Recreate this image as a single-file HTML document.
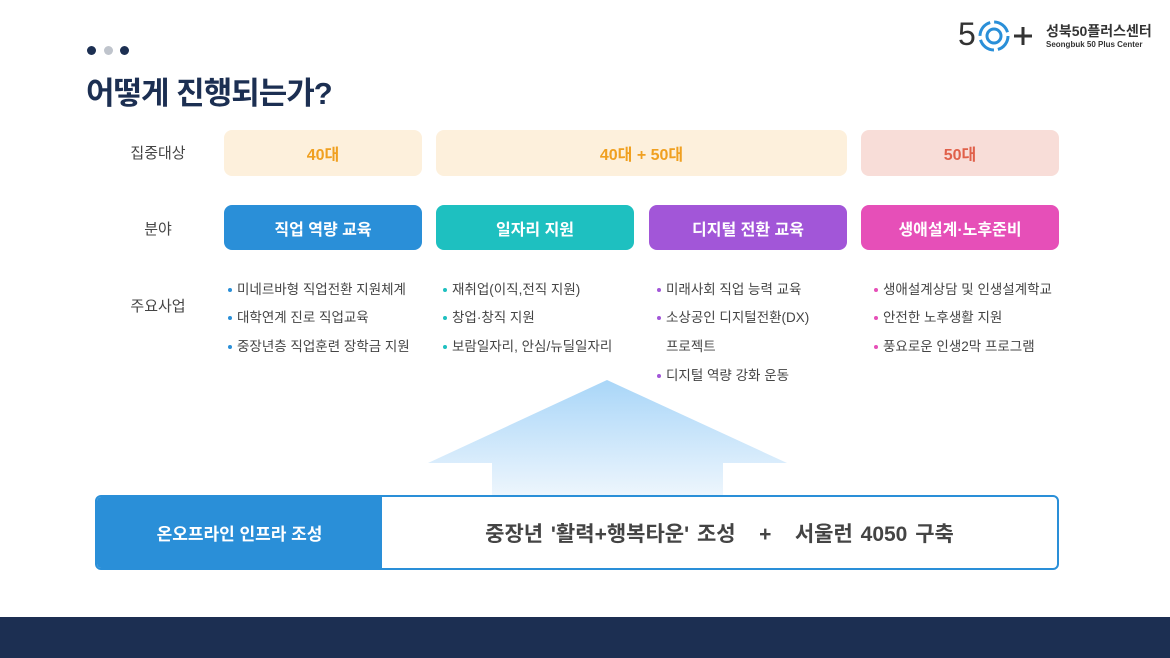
<!DOCTYPE html>
<html><head><meta charset="utf-8"><style>
*{margin:0;padding:0;box-sizing:border-box}
body{width:1170px;height:658px;background:#fff;position:relative;overflow:hidden;font-family:"Liberation Sans","Noto Sans CJK KR",sans-serif;color:#333}
.a{position:absolute}
.box{position:absolute;border-radius:8px;display:flex;align-items:center;justify-content:center;font-size:16px;font-weight:bold}
.lab{position:absolute;left:118px;width:80px;text-align:center;font-size:15px;color:#444}
.li{position:absolute;font-size:13.5px;color:#444;white-space:nowrap}
.li b{display:inline-block;width:4px;height:4px;border-radius:2px;margin-right:5px;vertical-align:middle}
</style></head><body>
<div class="a" style="left:87px;top:46px;width:9px;height:9px;border-radius:50%;background:#1c2f52"></div>
<div class="a" style="left:104px;top:46px;width:9px;height:9px;border-radius:50%;background:#bfc4cc"></div>
<div class="a" style="left:120px;top:46px;width:9px;height:9px;border-radius:50%;background:#1c2f52"></div>
<div class="a" style="left:86px;top:68px;font-size:31px;font-weight:bold;color:#1c2f52;letter-spacing:-1px">어떻게 진행되는가?</div>

<div class="a" style="left:958px;top:16px;font-size:32px;color:#333;line-height:36px">5</div>
<svg class="a" style="left:977px;top:18px" width="62" height="36"><circle cx="17" cy="18" r="14" fill="none" stroke="#2a8fd8" stroke-width="3" stroke-dasharray="18 4"/><circle cx="17" cy="18" r="7" fill="none" stroke="#2a8fd8" stroke-width="3"/><path d="M37 18h18M46 9v18" stroke="#333" stroke-width="3"/></svg>
<div class="a" style="left:1046px;top:21px;font-size:14px;font-weight:bold;color:#333">성북50플러스센터</div>
<div class="a" style="left:1046px;top:40px;font-size:8px;font-weight:bold;color:#333">Seongbuk 50 Plus Center</div>

<div class="lab" style="top:142px">집중대상</div>
<div class="lab" style="top:218px">분야</div>
<div class="lab" style="top:295px">주요사업</div>

<div class="box" style="left:224px;top:130px;width:198px;height:46px;background:#fdf0dc;color:#f0a020">40대</div>
<div class="box" style="left:436px;top:130px;width:411px;height:46px;background:#fdf0dc;color:#f0a020">40대 + 50대</div>
<div class="box" style="left:861px;top:130px;width:198px;height:46px;background:#f8ddd8;color:#e0604a">50대</div>

<div class="box" style="left:224px;top:205px;width:198px;height:45px;background:#2a8fd8;color:#fff">직업 역량 교육</div>
<div class="box" style="left:436px;top:205px;width:198px;height:45px;background:#1ec0c0;color:#fff">일자리 지원</div>
<div class="box" style="left:649px;top:205px;width:198px;height:45px;background:#a256d8;color:#fff">디지털 전환 교육</div>
<div class="box" style="left:861px;top:205px;width:198px;height:45px;background:#e64fb8;color:#fff">생애설계·노후준비</div>

<div class="li" style="left:228px;top:278px"><b style="background:#2a8fd8"></b>미네르바형 직업전환 지원체계</div>
<div class="li" style="left:228px;top:306px"><b style="background:#2a8fd8"></b>대학연계 진로 직업교육</div>
<div class="li" style="left:228px;top:335px"><b style="background:#2a8fd8"></b>중장년층 직업훈련 장학금 지원</div>
<div class="li" style="left:443px;top:278px"><b style="background:#1ec0c0"></b>재취업(이직,전직 지원)</div>
<div class="li" style="left:443px;top:306px"><b style="background:#1ec0c0"></b>창업·창직 지원</div>
<div class="li" style="left:443px;top:335px"><b style="background:#1ec0c0"></b>보람일자리, 안심/뉴딜일자리</div>
<div class="li" style="left:657px;top:278px"><b style="background:#a256d8"></b>미래사회 직업 능력 교육</div>
<div class="li" style="left:657px;top:306px"><b style="background:#a256d8"></b>소상공인 디지털전환(DX)</div>
<div class="li" style="left:666px;top:335px">프로젝트</div>
<div class="li" style="left:657px;top:364px"><b style="background:#a256d8"></b>디지털 역량 강화 운동</div>
<div class="li" style="left:874px;top:278px"><b style="background:#e64fb8"></b>생애설계상담 및 인생설계학교</div>
<div class="li" style="left:874px;top:306px"><b style="background:#e64fb8"></b>안전한 노후생활 지원</div>
<div class="li" style="left:874px;top:335px"><b style="background:#e64fb8"></b>풍요로운 인생2막 프로그램</div>

<svg class="a" style="left:0;top:0" width="1170" height="658"><defs><linearGradient id="g" x1="0" y1="0" x2="0" y2="1"><stop offset="0" stop-color="#a9d6f8"/><stop offset="1" stop-color="#eef6fd"/></linearGradient></defs>
<polygon points="607,380 787,463 723,463 723,497 492,497 492,463 428,463" fill="url(#g)"/></svg>

<div class="a" style="left:95px;top:495px;width:964px;height:75px;border:2px solid #2a8fd8;border-radius:6px;background:#fff;overflow:hidden">
<div class="a" style="left:0;top:0;width:285px;height:100%;background:#2a8fd8;color:#fff;font-size:17px;font-weight:bold;display:flex;align-items:center;justify-content:center">온오프라인 인프라 조성</div>
<div class="a" style="left:285px;top:0;right:0;height:100%;display:flex;align-items:center;justify-content:center;font-size:21px;font-weight:bold;color:#444;word-spacing:2px">중장년 '활력+행복타운' 조성 &nbsp; + &nbsp; 서울런 4050 구축</div>
</div>

<div class="a" style="left:0;top:617px;width:1170px;height:41px;background:#1c2f52"></div>
</body></html>
